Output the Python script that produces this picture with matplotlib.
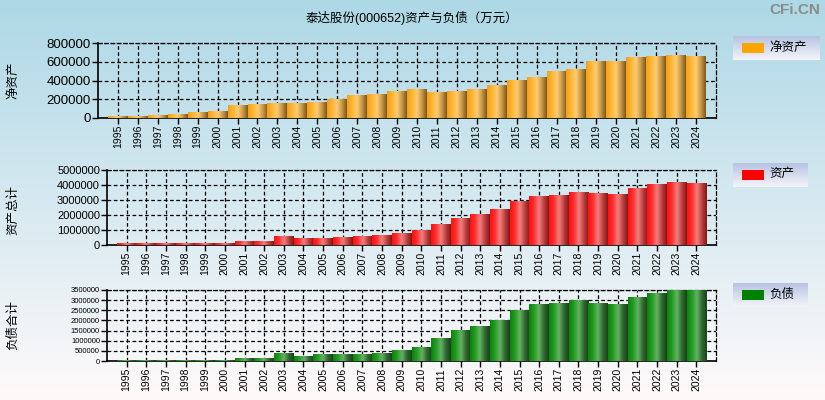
import numpy as np
import matplotlib
matplotlib.use("Agg")
import matplotlib.pyplot as plt
from matplotlib.colors import LinearSegmentedColormap
from matplotlib.patches import Rectangle

plt.rcParams['font.family'] = ['Liberation Sans', 'Noto Sans CJK SC', 'DejaVu Sans']

# data (万元)
years = [str(y) for y in range(1995, 2025)]
net_assets = [21000, 21000, 32000, 42000, 64000, 74000, 138000, 149000, 159000, 159000,
              170000, 202000, 244000, 255000, 287000, 304000, 276000, 287000, 308000, 350000,
              396000, 435000, 492000, 520000, 605000, 605000, 648000, 658000, 669000, 658000]
total_assets = [88000, 80000, 80000, 80000, 80000, 80000, 221000, 221000, 553000, 420000,
                420000, 487000, 553000, 620000, 752000, 951000, 1350000, 1748000, 2013000, 2345000,
                2898000, 3208000, 3274000, 3473000, 3407000, 3341000, 3739000, 4004000, 4137000, 4071000]
liabilities = [49000, 49000, 49000, 49000, 49000, 49000, 99000, 99000, 394000, 246000,
               296000, 345000, 345000, 394000, 493000, 641000, 1085000, 1479000, 1725000, 2021000,
               2481000, 2761000, 2810000, 2958000, 2810000, 2761000, 3106000, 3352000, 3451000, 3451000]

panels = [
    dict(vals=net_assets, ylabel='净资产', legend='净资产', ymax=800000, step=200000,
         pos=[98/825, 1-118/400, 618/825, 75/400], tfs=9.5, lg=(733, 36, 87, 24),
         solid='#ffa500', cols=['#f0a020', '#ffb530', '#ffcc75', '#c89a48', '#7e5618']),
    dict(vals=total_assets, ylabel='资产总计', legend='资产', ymax=5000000, step=1000000,
         pos=[107/825, 1-245/400, 609/825, 75/400], tfs=8, lg=(733, 163, 75, 24),
         solid='#ff0000', cols=['#ff1010', '#ff3030', '#f08080', '#c04040', '#801818']),
    dict(vals=liabilities, ylabel='负债合计', legend='负债', ymax=3500000, step=500000,
         pos=[107/825, 1-361/400, 609/825, 71/400], tfs=5.5, lg=(733, 283, 75, 24),
         solid='#008000', cols=['#108010', '#20a020', '#68b068', '#2f6a2f', '#1a421a']),
]
ylabel_y = [80, 210, 325]

fig = plt.figure(figsize=(8.25, 4), dpi=100)

# background gradient
bg = fig.add_axes([0, 0, 1, 1], zorder=-10)
top = np.array([173, 216, 230]) / 255
bot = np.array([255, 250, 250]) / 255
t = np.linspace(0, 1, 256)[:, None]
grad = top[None, :] * (1 - t) + bot[None, :] * t
bg.imshow(grad[:, None, :], aspect='auto', extent=[0, 1, 0, 1])
bg.axis('off')

fig.text(412/825, 1-18/400, '泰达股份(000652)资产与负债（万元）', ha='center', va='center', fontsize=9)
fig.text(820/825, 1-10/400, 'CFi.CN', ha='right', va='center', fontsize=11,
         fontweight='bold', color='#8c8c8c')

x = np.arange(len(years))
for i, p in enumerate(panels):
    ax = fig.add_axes(p['pos'])
    ax.patch.set_alpha(0)
    cmap = LinearSegmentedColormap.from_list('g', p['cols'])
    gimg = np.linspace(0, 1, 64)[None, :]
    bars = ax.bar(x, p['vals'], width=1.0, facecolor='none', edgecolor='none')
    for b in bars:
        x0, y0 = b.get_x(), b.get_y()
        ax.imshow(gimg, cmap=cmap, aspect='auto', zorder=3,
                  extent=[x0, x0 + b.get_width(), y0, y0 + b.get_height()])
    ax.set_xlim(-1, len(years))
    ax.set_ylim(0, p['ymax'])
    ax.set_yticks(np.arange(0, p['ymax'] + 1, p['step']))
    ax.set_yticklabels([str(v) for v in range(0, p['ymax'] + 1, p['step'])], fontsize=p['tfs'])
    ax.set_xticks(x)
    ax.set_xticklabels(years, rotation=90, fontsize=7.5)
    ax.grid(True, color='black', linestyle=(0, (3, 2)), linewidth=0.9, zorder=1)
    ax.set_axisbelow(True)
    for s in ['top', 'right']:
        ax.spines[s].set_linestyle((0, (3, 2)))
        ax.spines[s].set_linewidth(0.9)
    for s in ['left', 'bottom']:
        ax.spines[s].set_linewidth(1.2)
    ax.tick_params(axis='both', length=4, width=1, pad=1)
    fig.text(13/825, 1-ylabel_y[i]/400, p['ylabel'], rotation=90, ha='center', va='center', fontsize=9)

    # legend box
    lx, ly, lw, lh = p['lg']
    lax = fig.add_axes([lx/825, 1-(ly+lh)/400, lw/825, lh/400])
    ltop = np.array([182, 196, 226]) / 255
    lbot = np.array([244, 244, 250]) / 255
    lt = np.linspace(0, 1, 32)[:, None]
    lgrad = ltop[None, :] * (1 - lt) + lbot[None, :] * lt
    lax.imshow(lgrad[:, None, :], aspect='auto', extent=[0, lw, 0, lh])
    lax.add_patch(Rectangle((9, 7.5), 22, 10, facecolor=p['solid'], edgecolor='none'))
    lax.text(36, 12.5, p['legend'], va='center', ha='left', fontsize=9)
    lax.set_xlim(0, lw)
    lax.set_ylim(0, lh)
    lax.axis('off')

fig.savefig('out.png', dpi=100)
